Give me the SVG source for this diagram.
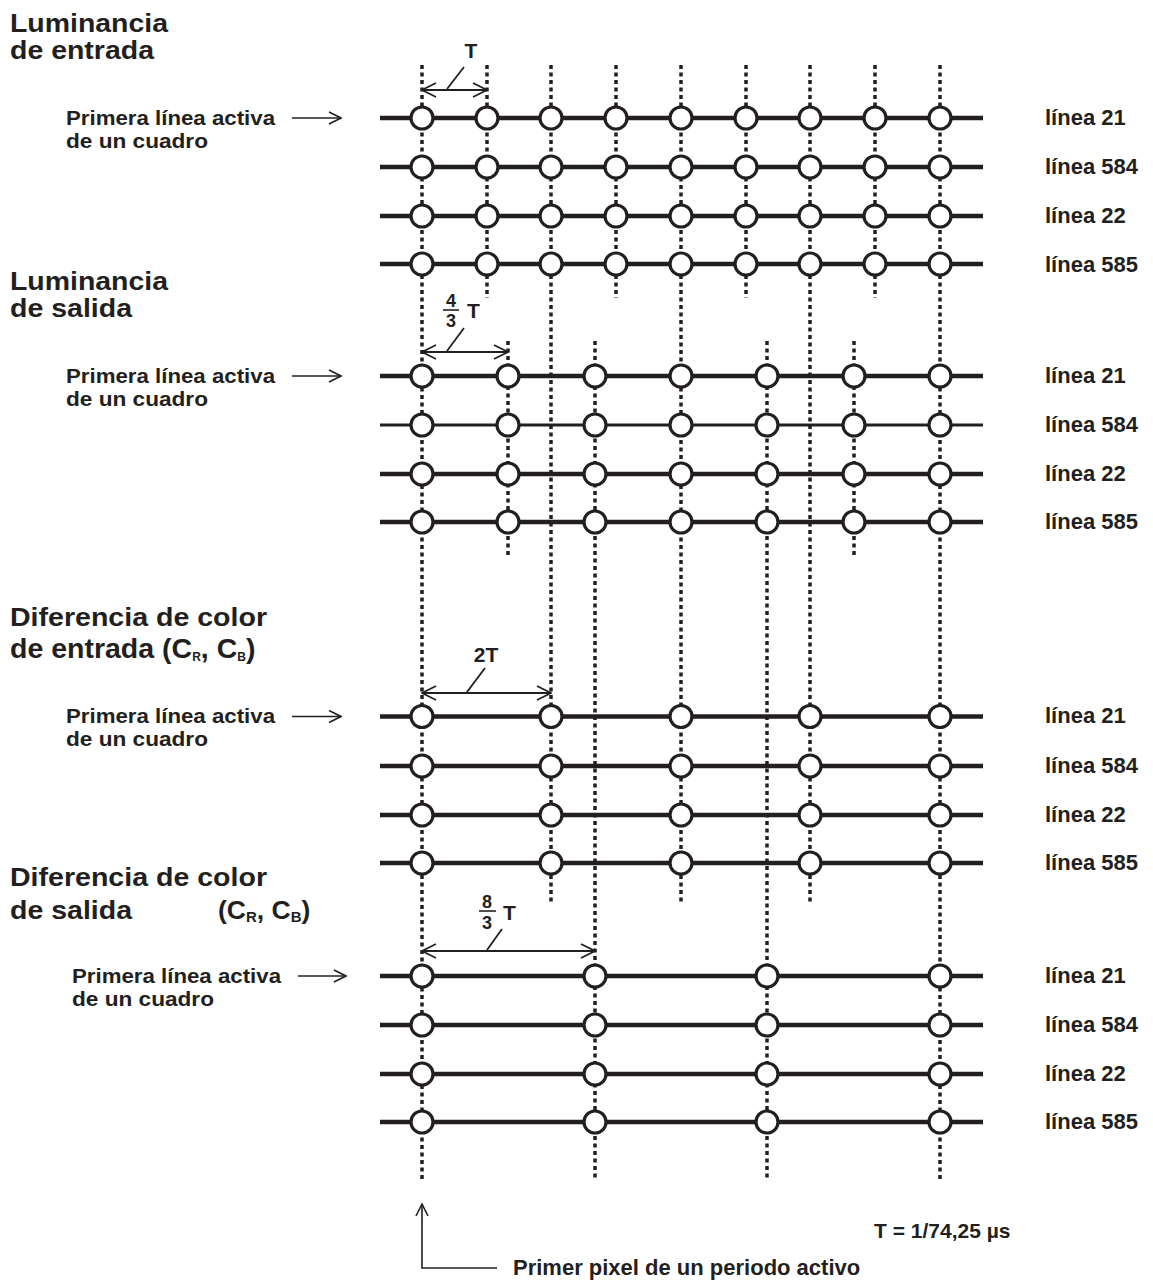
<svg xmlns="http://www.w3.org/2000/svg" xmlns:xlink="http://www.w3.org/1999/xlink" width="1153" height="1287" viewBox="0 0 1153 1287">
<style>
text{font-family:"Liberation Sans",Arial,sans-serif;font-weight:bold;fill:#231f20}
.title{font-size:26.5px}
.lbl{font-size:22px}
.fl{font-size:20px}
.dimt{font-size:21px}
.frac{font-size:18px}
.row{stroke:#231f20;stroke-width:4.5}
.dot{stroke:#231f20;stroke-width:3.5;stroke-dasharray:4 3.5;fill:none}
.cir{fill:#fff;stroke:#231f20;stroke-width:3.2}
.dim{stroke:#231f20;stroke-width:1.8;fill:none}
.thin{stroke:#231f20;stroke-width:1.6;fill:none}
</style>
<defs>
<circle id="c" r="11" class="cir"/>
<marker id="ah" viewBox="0 0 16 16" refX="15" refY="8" markerWidth="16" markerHeight="16" markerUnits="userSpaceOnUse" orient="auto-start-reverse"><path d="M1,1 L15,8 L1,15" fill="none" stroke="#231f20" stroke-width="1.8"/></marker>
<marker id="as" viewBox="0 0 14 14" refX="13" refY="7" markerWidth="14" markerHeight="14" markerUnits="userSpaceOnUse" orient="auto"><path d="M1,1 L13,7 L1,13" fill="none" stroke="#231f20" stroke-width="1.6"/></marker>
</defs>
<rect width="1153" height="1287" fill="#fff"/>

<g id="connectors">
<line class="dot" x1="422" y1="65" x2="422" y2="1180"/>
<line class="dot" x1="487" y1="65" x2="487" y2="298"/>
<line class="dot" x1="551" y1="65" x2="551" y2="902"/>
<line class="dot" x1="616" y1="65" x2="616" y2="298"/>
<line class="dot" x1="681" y1="65" x2="681" y2="904"/>
<line class="dot" x1="746" y1="65" x2="746" y2="298"/>
<line class="dot" x1="810" y1="65" x2="810" y2="902"/>
<line class="dot" x1="875" y1="65" x2="875" y2="298"/>
<line class="dot" x1="940" y1="65" x2="940" y2="1180"/>
<line class="dot" x1="508" y1="341" x2="508" y2="557"/>
<line class="dot" x1="595" y1="341" x2="595" y2="1178"/>
<line class="dot" x1="767" y1="341" x2="767" y2="1178"/>
<line class="dot" x1="854" y1="341" x2="854" y2="557"/>
<line class="row" x1="380" y1="118" x2="983" y2="118"/>
<line class="row" x1="380" y1="167" x2="983" y2="167"/>
<line class="row" x1="380" y1="216" x2="983" y2="216"/>
<line class="row" x1="380" y1="264" x2="983" y2="264"/>
<line class="row" x1="380" y1="376" x2="983" y2="376"/>
<line class="row" x1="380" y1="425" x2="983" y2="425" style="stroke-width:3"/>
<line class="row" x1="380" y1="474" x2="983" y2="474"/>
<line class="row" x1="380" y1="522" x2="983" y2="522"/>
<line class="row" x1="380" y1="716.5" x2="983" y2="716.5"/>
<line class="row" x1="380" y1="766" x2="983" y2="766"/>
<line class="row" x1="380" y1="815" x2="983" y2="815"/>
<line class="row" x1="380" y1="863" x2="983" y2="863"/>
<line class="row" x1="380" y1="976" x2="983" y2="976"/>
<line class="row" x1="380" y1="1025" x2="983" y2="1025"/>
<line class="row" x1="380" y1="1074" x2="983" y2="1074"/>
<line class="row" x1="380" y1="1122" x2="983" y2="1122"/>
<line class="dim" x1="422" y1="90" x2="487" y2="90" marker-start="url(#ah)" marker-end="url(#ah)"/>
<line class="dim" x1="447" y1="89" x2="464" y2="67"/>
<line class="dim" x1="422" y1="352" x2="508" y2="352" marker-start="url(#ah)" marker-end="url(#ah)"/>
<line class="dim" x1="447" y1="351" x2="464" y2="328"/>
<line class="dim" x1="422" y1="693" x2="551" y2="693" marker-start="url(#ah)" marker-end="url(#ah)"/>
<line class="dim" x1="467" y1="692" x2="485" y2="668"/>
<line class="dim" x1="422" y1="951" x2="595" y2="951" marker-start="url(#ah)" marker-end="url(#ah)"/>
<line class="dim" x1="487" y1="950" x2="502" y2="929"/>
<line class="thin" x1="292" y1="118" x2="341" y2="118" marker-end="url(#as)"/>
<line class="thin" x1="292" y1="376" x2="341" y2="376" marker-end="url(#as)"/>
<line class="thin" x1="292" y1="716.5" x2="341" y2="716.5" marker-end="url(#as)"/>
<line class="thin" x1="298" y1="976" x2="346" y2="976" marker-end="url(#as)"/>
<polyline class="thin" points="497,1268 422,1268 422,1204" marker-end="url(#as)"/>
</g>

<g id="samples-luma-in">
<use href="#c" x="422" y="118"/><use href="#c" x="487" y="118"/><use href="#c" x="551" y="118"/><use href="#c" x="616" y="118"/><use href="#c" x="681" y="118"/><use href="#c" x="746" y="118"/><use href="#c" x="810" y="118"/><use href="#c" x="875" y="118"/><use href="#c" x="940" y="118"/>
<use href="#c" x="422" y="167"/><use href="#c" x="487" y="167"/><use href="#c" x="551" y="167"/><use href="#c" x="616" y="167"/><use href="#c" x="681" y="167"/><use href="#c" x="746" y="167"/><use href="#c" x="810" y="167"/><use href="#c" x="875" y="167"/><use href="#c" x="940" y="167"/>
<use href="#c" x="422" y="216"/><use href="#c" x="487" y="216"/><use href="#c" x="551" y="216"/><use href="#c" x="616" y="216"/><use href="#c" x="681" y="216"/><use href="#c" x="746" y="216"/><use href="#c" x="810" y="216"/><use href="#c" x="875" y="216"/><use href="#c" x="940" y="216"/>
<use href="#c" x="422" y="264"/><use href="#c" x="487" y="264"/><use href="#c" x="551" y="264"/><use href="#c" x="616" y="264"/><use href="#c" x="681" y="264"/><use href="#c" x="746" y="264"/><use href="#c" x="810" y="264"/><use href="#c" x="875" y="264"/><use href="#c" x="940" y="264"/>
</g>
<g id="samples-luma-out">
<use href="#c" x="422" y="376"/><use href="#c" x="508" y="376"/><use href="#c" x="595" y="376"/><use href="#c" x="681" y="376"/><use href="#c" x="767" y="376"/><use href="#c" x="854" y="376"/><use href="#c" x="940" y="376"/>
<use href="#c" x="422" y="425"/><use href="#c" x="508" y="425"/><use href="#c" x="595" y="425"/><use href="#c" x="681" y="425"/><use href="#c" x="767" y="425"/><use href="#c" x="854" y="425"/><use href="#c" x="940" y="425"/>
<use href="#c" x="422" y="474"/><use href="#c" x="508" y="474"/><use href="#c" x="595" y="474"/><use href="#c" x="681" y="474"/><use href="#c" x="767" y="474"/><use href="#c" x="854" y="474"/><use href="#c" x="940" y="474"/>
<use href="#c" x="422" y="522"/><use href="#c" x="508" y="522"/><use href="#c" x="595" y="522"/><use href="#c" x="681" y="522"/><use href="#c" x="767" y="522"/><use href="#c" x="854" y="522"/><use href="#c" x="940" y="522"/>
</g>
<g id="samples-chroma-in">
<use href="#c" x="422" y="716.5"/><use href="#c" x="551" y="716.5"/><use href="#c" x="681" y="716.5"/><use href="#c" x="810" y="716.5"/><use href="#c" x="940" y="716.5"/>
<use href="#c" x="422" y="766"/><use href="#c" x="551" y="766"/><use href="#c" x="681" y="766"/><use href="#c" x="810" y="766"/><use href="#c" x="940" y="766"/>
<use href="#c" x="422" y="815"/><use href="#c" x="551" y="815"/><use href="#c" x="681" y="815"/><use href="#c" x="810" y="815"/><use href="#c" x="940" y="815"/>
<use href="#c" x="422" y="863"/><use href="#c" x="551" y="863"/><use href="#c" x="681" y="863"/><use href="#c" x="810" y="863"/><use href="#c" x="940" y="863"/>
</g>
<g id="samples-chroma-out">
<use href="#c" x="422" y="976"/><use href="#c" x="595" y="976"/><use href="#c" x="767" y="976"/><use href="#c" x="940" y="976"/>
<use href="#c" x="422" y="1025"/><use href="#c" x="595" y="1025"/><use href="#c" x="767" y="1025"/><use href="#c" x="940" y="1025"/>
<use href="#c" x="422" y="1074"/><use href="#c" x="595" y="1074"/><use href="#c" x="767" y="1074"/><use href="#c" x="940" y="1074"/>
<use href="#c" x="422" y="1122"/><use href="#c" x="595" y="1122"/><use href="#c" x="767" y="1122"/><use href="#c" x="940" y="1122"/>
</g>

<g id="titles">
<text class="title" x="10" y="32" textLength="158" lengthAdjust="spacingAndGlyphs">Luminancia</text>
<text class="title" x="10" y="59" textLength="144" lengthAdjust="spacingAndGlyphs">de entrada</text>
<text class="title" x="10" y="290" textLength="158" lengthAdjust="spacingAndGlyphs">Luminancia</text>
<text class="title" x="10" y="317" textLength="122" lengthAdjust="spacingAndGlyphs">de salida</text>
<text class="title" x="10" y="626" textLength="257" lengthAdjust="spacingAndGlyphs">Diferencia de color</text>
<text class="title" x="10" y="658" style="font-size:28.5px">de entrada (C<tspan font-size="12" dy="3">R</tspan><tspan dy="-3">, C</tspan><tspan font-size="12" dy="3">B</tspan><tspan dy="-3">)</tspan></text>
<text class="title" x="10" y="886" textLength="257" lengthAdjust="spacingAndGlyphs">Diferencia de color</text>
<text class="title" x="10" y="919" textLength="122" lengthAdjust="spacingAndGlyphs">de salida</text>
<text class="title" x="218" y="919">(C<tspan font-size="15" dy="3">R</tspan><tspan dy="-3">, C</tspan><tspan font-size="15" dy="3">B</tspan><tspan dy="-3">)</tspan></text>
</g>

<g id="first-line-labels">
<text class="fl" x="66" y="125" textLength="209" lengthAdjust="spacingAndGlyphs">Primera línea activa</text>
<text class="fl" x="66" y="148" textLength="142" lengthAdjust="spacingAndGlyphs">de un cuadro</text>
<text class="fl" x="66" y="383" textLength="209" lengthAdjust="spacingAndGlyphs">Primera línea activa</text>
<text class="fl" x="66" y="406" textLength="142" lengthAdjust="spacingAndGlyphs">de un cuadro</text>
<text class="fl" x="66" y="723" textLength="209" lengthAdjust="spacingAndGlyphs">Primera línea activa</text>
<text class="fl" x="66" y="746" textLength="142" lengthAdjust="spacingAndGlyphs">de un cuadro</text>
<text class="fl" x="72" y="983" textLength="209" lengthAdjust="spacingAndGlyphs">Primera línea activa</text>
<text class="fl" x="72" y="1006" textLength="142" lengthAdjust="spacingAndGlyphs">de un cuadro</text>
</g>

<g id="line-numbers">
<text class="lbl" x="1045" y="125">línea 21</text>
<text class="lbl" x="1045" y="174">línea 584</text>
<text class="lbl" x="1045" y="223">línea 22</text>
<text class="lbl" x="1045" y="272">línea 585</text>
<text class="lbl" x="1045" y="383">línea 21</text>
<text class="lbl" x="1045" y="432">línea 584</text>
<text class="lbl" x="1045" y="481">línea 22</text>
<text class="lbl" x="1045" y="529">línea 585</text>
<text class="lbl" x="1045" y="723">línea 21</text>
<text class="lbl" x="1045" y="773">línea 584</text>
<text class="lbl" x="1045" y="822">línea 22</text>
<text class="lbl" x="1045" y="870">línea 585</text>
<text class="lbl" x="1045" y="983">línea 21</text>
<text class="lbl" x="1045" y="1032">línea 584</text>
<text class="lbl" x="1045" y="1081">línea 22</text>
<text class="lbl" x="1045" y="1129">línea 585</text>
</g>

<g id="dimension-labels">
<text class="dimt" x="471" y="58" text-anchor="middle">T</text>
<text class="frac" x="451" y="307" text-anchor="middle">4</text>
<line x1="443" y1="310" x2="459" y2="310" stroke="#231f20" stroke-width="1.6"/>
<text class="frac" x="451" y="327" text-anchor="middle">3</text>
<text class="dimt" x="467" y="318">T</text>
<text class="dimt" x="486" y="662" text-anchor="middle">2T</text>
<text class="frac" x="487" y="908" text-anchor="middle">8</text>
<line x1="479" y1="911" x2="496" y2="911" stroke="#231f20" stroke-width="1.6"/>
<text class="frac" x="487" y="929" text-anchor="middle">3</text>
<text class="dimt" x="503" y="920">T</text>
</g>

<g id="footer">
<text class="dimt" x="874" y="1238">T = 1/74,25 µs</text>
<text class="lbl" x="513" y="1275">Primer pixel de un periodo activo</text>
</g>
</svg>
